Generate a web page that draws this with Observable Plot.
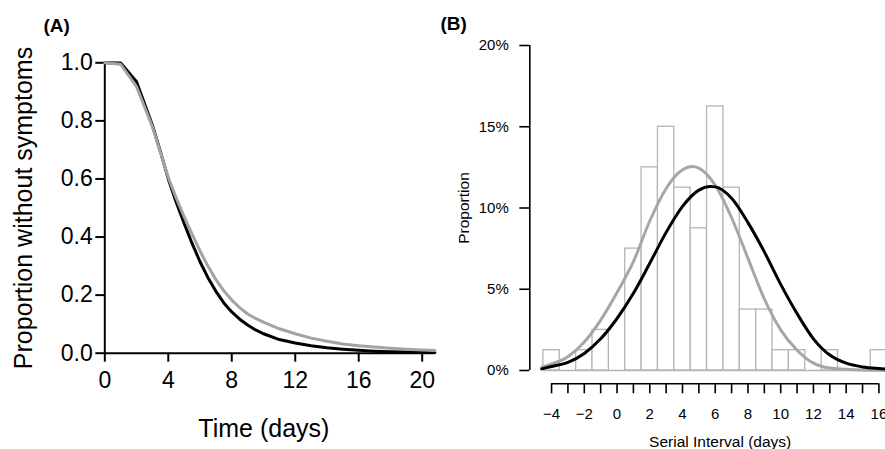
<!DOCTYPE html>
<html>
<head>
<meta charset="utf-8">
<script src="https://cdn.jsdelivr.net/npm/d3@7"></script>
<script src="https://cdn.jsdelivr.net/npm/@observablehq/plot@0.6"></script>
<style>
  html, body { margin: 0; padding: 0; background: #fff; overflow: hidden; }
  #wrap { position: relative; width: 885px; height: 449px; overflow: hidden; }
  #panelA { position: absolute; left: 0; top: 0; width: 440px; height: 449px; }
  #panelB { position: absolute; left: 440px; top: 0; width: 470px; height: 449px; }
  svg { max-width: none !important; display: block; }
</style>
</head>
<body>
<div id="wrap"><div id="panelA"></div><div id="panelB"></div></div>
<script>
// ---------- Panel A data ----------
const timeA = [0, 1, 2, 3, 3.5, 4, 4.5, 5, 5.5, 6, 6.5, 7, 7.5, 8, 8.5, 9, 9.5, 10, 11, 12, 13, 14, 15, 16, 17, 18, 19, 20, 20.8];
const blackA = [1.0, 0.999, 0.935, 0.785, 0.695, 0.60, 0.52, 0.447, 0.378, 0.315, 0.26, 0.213, 0.173, 0.142, 0.117, 0.097, 0.08, 0.067, 0.047, 0.035, 0.026, 0.019, 0.014, 0.010, 0.007, 0.005, 0.004, 0.003, 0.002];
const grayA = [1.0, 0.995, 0.918, 0.78, 0.693, 0.605, 0.535, 0.47, 0.41, 0.352, 0.30, 0.253, 0.215, 0.183, 0.157, 0.135, 0.12, 0.107, 0.084, 0.067, 0.052, 0.041, 0.032, 0.026, 0.021, 0.017, 0.014, 0.011, 0.009];
const xTicksA = [0, 4, 8, 12, 16, 20];
const yTicksA = [0, 0.2, 0.4, 0.6, 0.8, 1.0];
const xDomainA = [0, 20.8];

// ---------- Panel B data ----------
const binCenters = [-4, -3, -2, -1, 0, 1, 2, 3, 4, 5, 6, 7, 8, 9, 10, 11, 12, 13, 14, 15, 16];
const binPct = [1.25, 0, 1.25, 2.5, 0, 7.5, 12.5, 15, 11.25, 8.75, 16.25, 11.25, 3.75, 3.75, 1.25, 1.25, 0, 1.25, 0, 0, 1.25];
const grayBx = [-4.6, -4, -3, -2, -1, 0, 1, 2, 3, 4, 4.6, 5, 6, 7, 8, 9, 10, 11, 12, 13, 14, 15, 16, 17];
const grayBy = [0.2, 0.4, 0.85, 1.75, 3.1, 4.8, 6.7, 9.2, 11.2, 12.35, 12.55, 12.45, 11.4, 9.4, 6.9, 4.4, 2.5, 1.25, 0.45, 0.15, 0.08, 0.03, 0.01, 0.0];
const blackBx = [-4.6, -4, -3, -2, -1, 0, 1, 2, 3, 4, 5, 5.7, 6, 7, 8, 9, 10, 11, 12, 13, 14, 15, 16, 17];
const blackBy = [0.1, 0.25, 0.5, 1.05, 1.95, 3.2, 4.75, 6.6, 8.5, 10.1, 11.1, 11.32, 11.3, 10.6, 9.1, 7.3, 5.3, 3.5, 1.95, 0.95, 0.45, 0.22, 0.12, 0.06];
const xTicksB = [-4, -3, -2, -1, 0, 1, 2, 3, 4, 5, 6, 7, 8, 9, 10, 11, 12, 13, 14, 15, 16];
const yTicksB = [0, 5, 10, 15, 20];
const xDomainB = [-5.33, 17.93];
const yDomainB = [0, 20];

const FONT = "'Liberation Sans', Arial, Helvetica, sans-serif";

// ---------- Panel A ----------
const seriesA = timeA.map((t, i) => ({t, black: blackA[i], gray: grayA[i]}));
const plotA = Plot.plot({
  width: 440, height: 449,
  marginLeft: 104.3, marginRight: 5.6, marginTop: 62.3, marginBottom: 96.3,
  style: {fontFamily: FONT, background: "transparent", overflow: "visible", color: "#000", maxWidth: "none"},
  x: {domain: xDomainA},
  y: {domain: [0, 1]},
  marks: [
    Plot.ruleX([xDomainA[0]], {y1: 0, y2: 1, stroke: "#000", strokeWidth: 2}),
    Plot.ruleY([0], {x1: xDomainA[0], x2: xDomainA[1], stroke: "#000", strokeWidth: 2}),
    Plot.axisY({ticks: yTicksA, tickFormat: d3.format(".1f"), tickSize: 9, tickPadding: 3, fontSize: 23, strokeWidth: 2, label: null}),
    Plot.axisX({ticks: xTicksA, tickFormat: d3.format("d"), tickSize: 9, tickPadding: 9, fontSize: 23, strokeWidth: 2, label: null}),
    Plot.line(seriesA, {x: "t", y: "black", stroke: "#000", strokeWidth: 3, curve: "linear"}),
    Plot.line(seriesA, {x: "t", y: "gray", stroke: "#a3a3a3", strokeWidth: 3, curve: "linear"}),
    Plot.text(["Proportion without symptoms"], {frameAnchor: "left", dx: -81, rotate: -90, fontSize: 25, textAnchor: "middle", lineAnchor: "middle"}),
    Plot.text(["Time (days)"], {frameAnchor: "bottom", dx: -6, dy: 75.3, fontSize: 25, textAnchor: "middle", lineAnchor: "middle"}),
    Plot.text(["(A)"], {frameAnchor: "top-left", dx: -61.3, dy: -37.3, textAnchor: "start", lineAnchor: "middle", fontWeight: "bold", fontSize: 19})
  ]
});
document.getElementById("panelA").appendChild(plotA);

// ---------- Panel B ----------
const bins = binCenters.map((c, i) => ({c, pct: binPct[i]}));
const grayB = grayBx.map((x, i) => ({x, y: grayBy[i]}));
const blackB = blackBx.map((x, i) => ({x, y: blackBy[i]}));
const plotB = Plot.plot({
  width: 470, height: 449,
  marginLeft: 89.3, marginRight: 0, marginTop: 45, marginBottom: 79,
  style: {fontFamily: FONT, background: "transparent", overflow: "visible", color: "#000", maxWidth: "none"},
  x: {domain: xDomainB},
  y: {domain: yDomainB},
  marks: [
    Plot.rectY(bins.filter(d => d.pct > 0), {x1: d => d.c - 0.5, x2: d => d.c + 0.5, y1: 0, y2: "pct", fill: "#fff", stroke: "#b5b5b5", strokeWidth: 1.3}),
    Plot.ruleY([0], {x1: binCenters[0] - 0.5, x2: binCenters[binCenters.length - 1] + 0.5, stroke: "#b5b5b5", strokeWidth: 1.3}),
    Plot.line(grayB, {x: "x", y: "y", stroke: "#a6a6a6", strokeWidth: 3, curve: "monotone-x"}),
    Plot.line(blackB, {x: "x", y: "y", stroke: "#000", strokeWidth: 3, curve: "monotone-x"}),
    Plot.ruleX([xDomainB[0]], {y1: yDomainB[0], y2: yDomainB[1], stroke: "#000", strokeWidth: 1.6}),
    Plot.axisY({ticks: yTicksB, tickFormat: d => d + "%", tickSize: 10, tickPadding: 11, fontSize: 15, strokeWidth: 1.6, label: null}),
    Plot.ruleY([0], {x1: xTicksB[0], x2: xTicksB[xTicksB.length - 1], dy: 13.3, stroke: "#000", strokeWidth: 1.6}),
    Plot.axisX({ticks: xTicksB, tickFormat: d => (d % 2 === 0 ? d3.format("d")(d) : ""), tickSize: 10, tickPadding: 15, dy: 13.3, fontSize: 15, strokeWidth: 1.6, label: null}),
    Plot.text(["Proportion"], {frameAnchor: "left", dx: -66, rotate: -90, fontSize: 15.5, textAnchor: "middle", lineAnchor: "middle"}),
    Plot.text(["Serial Interval (days)"], {frameAnchor: "bottom", dy: 71.7, fontSize: 15.5, textAnchor: "middle", lineAnchor: "middle"}),
    Plot.text(["(B)"], {frameAnchor: "top-left", dx: -89.3, dy: -22, textAnchor: "start", lineAnchor: "middle", fontWeight: "bold", fontSize: 19})
  ]
});
document.getElementById("panelB").appendChild(plotB);
</script>
</body>
</html>
